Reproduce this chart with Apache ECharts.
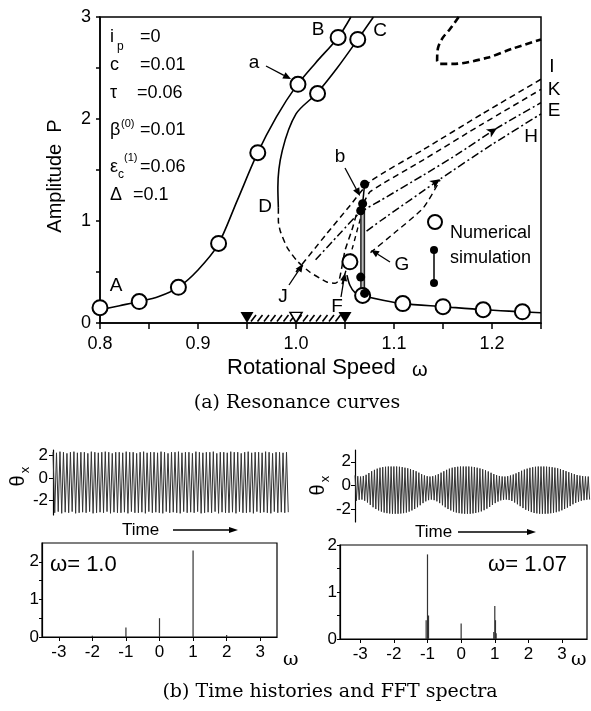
<!DOCTYPE html>
<html><head><meta charset="utf-8">
<script src="https://cdn.jsdelivr.net/npm/echarts@6/dist/echarts.min.js"></script>
<style>html,body{margin:0;padding:0;background:#fff}#c{width:591px;height:711px}</style>
</head><body><div id="c"></div>
<script>
// ---------------- DATA ----------------
// (a) resonance curves : rotational speed w, amplitude P
const abW = [0.8,0.82,0.84,0.86,0.88,0.9,0.92,0.94,0.96,0.98,1.0,1.02,1.043,1.056];
const abP = [0.13,0.17,0.21,0.26,0.35,0.52,0.76,1.2,1.65,2.02,2.32,2.55,2.8,3.0];
const cW  = [1.079,1.063,1.042,1.021,1.0,0.986,0.9815,0.982];
const cP  = [3.0,2.78,2.5,2.25,2.05,1.69,1.33,1.13];
const dkW = [0.982,0.982,0.984,0.991,1.001,1.014,1.032,1.04,1.044,1.05,1.057,1.063,1.07,1.076,1.13,1.19,1.25];
const dkP = [1.13,1.0,0.9,0.74,0.61,0.5,0.40,0.39,0.42,0.71,0.91,1.1,1.2,1.29,1.6,1.95,2.29];
const s2W = [1.047,1.052,1.058,1.063,1.068];
const s2P = [0.38,0.55,0.75,0.93,1.1];
const iW  = [1.0,1.03,1.055,1.076,1.13,1.19,1.25];
const iP  = [0.5,0.86,1.15,1.39,1.7,2.05,2.39];
const eW  = [1.02,1.045,1.065,1.086,1.13,1.164,1.205,1.25];
const eP  = [0.62,0.88,1.08,1.2,1.45,1.65,1.91,2.16];
const hW  = [1.072,1.086,1.147,1.2,1.25];
const hP  = [0.9,1.0,1.41,1.75,2.05];
const gW  = [1.076,1.1,1.13,1.147];
const gP  = [0.69,0.88,1.13,1.40];
const loopW = [1.166,1.157,1.15,1.145,1.144,1.147,1.16,1.195,1.221,1.25];
const loopP = [3.0,2.88,2.8,2.7,2.57,2.54,2.54,2.6,2.69,2.78];
const lowW = [1.052,1.055,1.06,1.068,1.09,1.109,1.15,1.191,1.231,1.25];
const lowP = [0.47,0.37,0.3,0.27,0.22,0.19,0.16,0.13,0.11,0.1];
// numerical simulation (open circles)
const simW = [0.8,0.84,0.88,0.921,0.961,1.002,1.043,1.022,1.063,1.055,1.068,1.109,1.15,1.191,1.231];
const simP = [0.15,0.21,0.35,0.78,1.67,2.34,2.8,2.25,2.78,0.6,0.27,0.19,0.16,0.13,0.11];
// numerical simulation band at w=1.07 (filled dots)
const dotW = [1.07,1.068,1.066,1.066,1.07];
const dotP = [1.36,1.17,1.1,0.45,0.29];
const bandW = 1.068, bandLo = 0.3, bandHi = 1.15;
// unstable speed range on axis
const rangeW = [0.95,1.0,1.05];
// arrow marks on curves
const arrowW = [1.147,1.205], arrowP = [1.41,1.91], arrowDir = [-56,-58];

// (b) time histories : per-cycle peaks / troughs
const leftPeaks = [2.30,2.25,2.35,2.30,2.20,2.30,2.35,2.25,2.30,2.30,
2.20,2.35,2.30,2.25,2.30,2.35,2.30,2.20,2.30,2.30,
2.25,2.35,2.30,2.30,2.20,2.30,2.35,2.25,2.30,2.30,
2.25,2.35,2.30,2.20,2.30,2.30,2.35,2.25,2.30,2.30,
2.20,2.35,2.30,2.25,2.30,2.30,2.35,2.20,2.30,2.30,
2.25,2.35,2.30,2.30,2.20,2.30,2.35,2.25,2.30,2.30,
2.25,2.35,2.30,2.20,2.30,2.30,2.25,2.30];
const leftTroughs = [-3.10,-3.00,-3.15,-3.05,-3.10,-3.00,-3.15,-3.10,-3.05,-3.10,
-3.00,-3.15,-3.10,-3.05,-3.10,-3.00,-3.15,-3.05,-3.10,-3.10,
-3.05,-3.15,-3.00,-3.10,-3.10,-3.05,-3.15,-3.00,-3.10,-3.05,
-3.10,-3.15,-3.00,-3.10,-3.05,-3.10,-3.15,-3.00,-3.10,-3.05,
-3.10,-3.00,-3.15,-3.10,-3.05,-3.10,-3.00,-3.15,-3.05,-3.10,
-3.10,-3.05,-3.15,-3.00,-3.10,-3.10,-3.05,-3.15,-3.00,-3.10,
-3.05,-3.10,-3.15,-3.00,-3.10,-3.05,-3.10,-3.05];
const rightPeaks = [0.85,0.78,0.75,0.8,0.9,1.05,1.2,1.32,1.42,1.5,
1.55,1.58,1.6,1.6,1.6,1.6,1.58,1.55,1.5,1.45,
1.38,1.3,1.2,1.08,0.95,0.85,0.78,0.75,0.78,0.85,
0.95,1.08,1.2,1.32,1.42,1.5,1.55,1.58,1.6,1.6,
1.6,1.6,1.58,1.55,1.5,1.44,1.37,1.28,1.18,1.07,
0.96,0.87,0.8,0.76,0.75,0.78,0.84,0.92,1.02,1.13,
1.24,1.34,1.42,1.49,1.54,1.58,1.6,1.6,1.6,1.59,
1.57,1.54,1.5,1.45,1.38,1.3,1.21,1.12,1.03,0.95,
0.88,0.83,0.79,0.76,0.75];
const rightTroughs = [-1.3,-1.22,-1.2,-1.3,-1.45,-1.65,-1.85,-2.0,-2.12,-2.22,
-2.3,-2.35,-2.38,-2.4,-2.4,-2.4,-2.38,-2.35,-2.3,-2.22,
-2.12,-2.0,-1.85,-1.68,-1.5,-1.35,-1.25,-1.2,-1.25,-1.35,
-1.5,-1.68,-1.85,-2.0,-2.12,-2.22,-2.3,-2.35,-2.38,-2.4,
-2.4,-2.4,-2.37,-2.33,-2.27,-2.2,-2.1,-1.97,-1.82,-1.66,
-1.5,-1.37,-1.27,-1.22,-1.2,-1.24,-1.32,-1.45,-1.6,-1.76,
-1.92,-2.06,-2.17,-2.26,-2.33,-2.37,-2.4,-2.4,-2.4,-2.39,
-2.36,-2.32,-2.27,-2.2,-2.11,-2.0,-1.88,-1.75,-1.6,-1.48,
-1.38,-1.3,-1.25,-1.21,-1.2];
// FFT spectra
const fftLW = [-2,-1,0,1,2];
const fftLH = [0.03,0.25,0.5,2.3,0.05];
const fftRW = [-1.04,-1.0,-0.97,0,0.97,1.0,1.02,1.04];
const fftRH = [0.4,1.8,0.5,0.33,0.15,0.7,0.4,0.12];
// tick labels
const mainXTicks = [0.8,0.85,0.9,0.95,1.0,1.05,1.1,1.15,1.2,1.25];
const mainXLabels = [0.8,0.9,1.0,1.1,1.2];
const mainYTicks = [0,0.5,1,1.5,2,2.5,3];
const mainYLabels = [0,1,2,3];
const timeYLabels = [-2,0,2];
const fftXLabels = [-3,-2,-1,0,1,2,3];
const fftYTicks = [0,0.5,1,1.5,2];
const fftYLabels = [0,1,2];

// ---------------- helpers ----------------
const zip = (a,b) => a.map((v,i)=>[v,b[i]]);
const zig = (p,t) => { const out=[]; p.forEach((v,i)=>{out.push([i,v]); out.push([i+0.5,t[i]]);}); return out; };
const SANS = '"Liberation Sans", Arial, Helvetica, sans-serif';
const SERIF = '"DejaVu Serif", "Liberation Serif", serif';
function T(text,x,y,size,o={}){
  const al=o.align||'left', va=o.va||'middle';
  return {type:'text', x, y, rotation:o.rot||0, z:100,
    style:{text, font:`normal ${size}px ${o.family||SANS}`, fill:'#000',
      align:al, textAlign:al, verticalAlign:va, textVerticalAlign:va}};
}
function A(x1,y1,x2,y2,hl=8,hw=3.5){
  const dx=x2-x1, dy=y2-y1, L=Math.hypot(dx,dy), ux=dx/L, uy=dy/L;
  const bx=x2-ux*hl, by=y2-uy*hl;
  return [{type:'line', z:100, shape:{x1,y1,x2:bx,y2:by}, style:{stroke:'#000', lineWidth:1.3}},
          {type:'polygon', z:100, shape:{points:[[x2,y2],[bx-uy*hw,by+ux*hw],[bx+uy*hw,by-ux*hw]]}, style:{fill:'#000'}}];
}
const axisTxt = {color:'#000', fontFamily:SANS};
const black = {color:'#000', width:1.5};

function lineS(w,p,type,width,smooth){
  return {type:'line', xAxisIndex:0, yAxisIndex:0, data:zip(w,p), showSymbol:false, symbol:'none',
    smooth:smooth===undefined?0.3:smooth, lineStyle:{color:'#000', width:width||1.5, type:type||'solid'}, z:3, silent:true};
}
function spikes(xi, w, h, color){
  return {type:'custom', xAxisIndex:xi, yAxisIndex:xi, data:zip(w,h), silent:true,
    renderItem:(params,api)=>{
      const a=api.coord([api.value(0),0]), b=api.coord([api.value(0),api.value(1)]);
      return {type:'line', shape:{x1:a[0],y1:a[1],x2:b[0],y2:b[1]}, style:{stroke:color, lineWidth:1.2}};
    }};
}

// ---------------- option ----------------
const option = {
  animation:false,
  backgroundColor:'#fff',
  grid:[
    {left:100, top:17, width:441, height:306, show:true, borderColor:'#000', borderWidth:1.5},
    {left:53, top:450, width:237, height:65},
    {left:355, top:450, width:236, height:72},
    {left:42, top:543, width:235, height:94, show:true, borderColor:'#000', borderWidth:1.2},
    {left:340, top:545, width:247, height:94, show:true, borderColor:'#000', borderWidth:1.2}
  ],
  xAxis:[
    {type:'value', gridIndex:0, min:0.8, max:1.25, axisLine:{lineStyle:black},
      axisTick:{customValues:mainXTicks, length:6, lineStyle:black},
      axisLabel:{customValues:mainXLabels, formatter:v=>v.toFixed(1), fontSize:18, margin:12, ...axisTxt},
      splitLine:{show:false}},
    {type:'value', gridIndex:1, min:0, max:leftPeaks.length, show:false},
    {type:'value', gridIndex:2, min:0, max:rightPeaks.length, show:false},
    {type:'value', gridIndex:3, min:-3.5, max:3.5, axisLine:{onZero:false, lineStyle:{color:'#000',width:1.2}},
      axisTick:{customValues:fftXLabels, length:4, lineStyle:{color:'#000'}},
      axisLabel:{customValues:fftXLabels, fontSize:17, margin:7, ...axisTxt}, splitLine:{show:false}},
    {type:'value', gridIndex:4, min:-3.6, max:3.74, axisLine:{onZero:false, lineStyle:{color:'#000',width:1.2}},
      axisTick:{customValues:fftXLabels, length:4, lineStyle:{color:'#000'}},
      axisLabel:{customValues:fftXLabels, fontSize:17, margin:7, ...axisTxt}, splitLine:{show:false}}
  ],
  yAxis:[
    {type:'value', gridIndex:0, min:0, max:3, axisLine:{lineStyle:black},
      axisTick:{customValues:mainYTicks, length:4, lineStyle:black},
      axisLabel:{customValues:mainYLabels, fontSize:18, margin:9, ...axisTxt}, splitLine:{show:false}},
    {type:'value', gridIndex:1, min:-3.3, max:2.5, axisLine:{show:true, lineStyle:{color:'#000',width:1.2}},
      axisTick:{show:true, customValues:timeYLabels, length:4, lineStyle:{color:'#000'}},
      axisLabel:{customValues:timeYLabels, fontSize:17, margin:5, ...axisTxt}, splitLine:{show:false}},
    {type:'value', gridIndex:2, min:-3.1, max:3.0, axisLine:{show:true, lineStyle:{color:'#000',width:1.2}},
      axisTick:{show:true, customValues:timeYLabels, length:4, lineStyle:{color:'#000'}},
      axisLabel:{customValues:timeYLabels, fontSize:17, margin:4, ...axisTxt}, splitLine:{show:false}},
    {type:'value', gridIndex:3, min:0, max:2.5, axisLine:{onZero:false, lineStyle:{color:'#000',width:1.2}},
      axisTick:{customValues:fftYTicks, length:3, lineStyle:{color:'#000'}},
      axisLabel:{customValues:fftYLabels, fontSize:17, margin:3, ...axisTxt}, splitLine:{show:false}},
    {type:'value', gridIndex:4, min:0, max:2, axisLine:{onZero:false, lineStyle:{color:'#000',width:1.2}},
      axisTick:{customValues:fftYTicks, length:3, lineStyle:{color:'#000'}},
      axisLabel:{customValues:fftYLabels, fontSize:17, margin:3, ...axisTxt}, splitLine:{show:false}}
  ],
  series:[
    lineS(abW,abP,'solid',1.6),
    lineS(cW,cP,'solid',1.6),
    lineS(dkW,dkP,[6,4],1.5,0.2),
    lineS(s2W,s2P,[5,4],1.4,0.2),
    lineS(iW,iP,[6,4],1.5,0.2),
    lineS(eW,eP,[8,3,2,3],1.5,0.2),
    lineS(hW,hP,[8,3,2,3],1.5,0.2),
    lineS(gW,gP,[6,4],1.4,0.2),
    lineS(loopW,loopP,[7,4],2.6,0.3),
    lineS(lowW,lowP,'solid',1.6,0.3),
    // simulation band
    {type:'line', xAxisIndex:0, yAxisIndex:0, data:[[bandW,bandLo],[bandW,bandHi]], symbol:'none',
      lineStyle:{color:'#222', width:5}, z:4, silent:true},
    {type:'line', xAxisIndex:0, yAxisIndex:0, data:[[bandW,bandLo],[bandW,bandHi]], symbol:'none',
      lineStyle:{color:'#bbb', width:2}, z:5, silent:true},
    {type:'line', xAxisIndex:0, yAxisIndex:0, data:[[dotW[0],dotP[0]],[dotW[1],dotP[1]]], symbol:'none',
      lineStyle:{color:'#000', width:1.5}, z:5, silent:true},
    {type:'scatter', xAxisIndex:0, yAxisIndex:0, data:zip(simW,simP), symbol:'circle', symbolSize:15,
      itemStyle:{color:'#fff', borderColor:'#000', borderWidth:2, opacity:1}, z:6, silent:true},
    {type:'scatter', xAxisIndex:0, yAxisIndex:0, data:zip(dotW,dotP), symbol:'circle', symbolSize:9,
      itemStyle:{color:'#000', opacity:1}, z:7, silent:true},
    // arrows on curves
    {type:'scatter', xAxisIndex:0, yAxisIndex:0, data:arrowW.map((w,i)=>({value:[w,arrowP[i]], symbolRotate:arrowDir[i]})),
      symbol:'arrow', symbolSize:[7,10], itemStyle:{color:'#000', opacity:1}, z:7, silent:true},
    // hatched unstable range
    {type:'custom', xAxisIndex:0, yAxisIndex:0, data:[[rangeW[0],rangeW[2]]], silent:true, z:4,
      renderItem:(params,api)=>{
        const a=api.coord([api.value(0),0]), b=api.coord([api.value(1),0]);
        const ch=[];
        for(let x=a[0]+4; x<b[0]-4; x+=6.5){
          ch.push({type:'line', shape:{x1:x, y1:a[1]-1.5, x2:x+5, y2:a[1]-8}, style:{stroke:'#000', lineWidth:1.6}});
        }
        return {type:'group', children:ch};
      }},
    {type:'scatter', xAxisIndex:0, yAxisIndex:0, data:[[rangeW[0],0.055],[rangeW[2],0.055]], symbol:'triangle',
      symbolRotate:180, symbolSize:[13,11], itemStyle:{color:'#000', opacity:1}, z:8, silent:true},
    {type:'scatter', xAxisIndex:0, yAxisIndex:0, data:[[rangeW[1],0.055]], symbol:'triangle',
      symbolRotate:180, symbolSize:[12,10], itemStyle:{color:'#fff', borderColor:'#000', borderWidth:1.5, opacity:1}, z:8, silent:true},
    // time histories
    {type:'line', xAxisIndex:1, yAxisIndex:1, data:zig(leftPeaks,leftTroughs), symbol:'none',
      lineStyle:{color:'#333', width:1}, silent:true},
    {type:'line', xAxisIndex:2, yAxisIndex:2, data:zig(rightPeaks,rightTroughs), symbol:'none',
      lineStyle:{color:'#333', width:1}, silent:true},
    // spectra
    spikes(3, fftLW, fftLH, '#333'),
    spikes(4, fftRW, fftRH, '#333')
  ],
  graphic:{elements:[
    // axis titles
    T('Amplitude  P', 55, 176, 20, {rot:Math.PI/2, align:'center'}),
    T('Rotational Speed', 227, 368, 22),
    T('ω', 412, 370, 20),
    // parameters
    T('i', 110, 37, 18), T('p', 117, 47, 12), T('=0', 140, 37, 18),
    T('c', 110, 65, 18), T('=0.01', 140, 65, 18),
    T('τ', 110, 93, 18), T('=0.06', 137, 93, 18),
    T('β', 110, 130, 18), T('(0)', 121, 124, 11), T('=0.01', 140, 130, 18),
    T('ε', 110, 167, 18), T('c', 118, 175, 12), T('(1)', 124, 158, 11), T('=0.06', 140, 167, 18),
    T('Δ', 110, 195, 18), T('=0.1', 133, 195, 18),
    // curve labels
    T('A', 116, 286, 19, {align:'center'}),
    T('a', 254, 63, 19, {align:'center'}),
    T('B', 318, 30, 19, {align:'center'}),
    T('C', 380, 31, 19, {align:'center'}),
    T('D', 265, 207, 19, {align:'center'}),
    T('b', 340, 157, 19, {align:'center'}),
    T('J', 283, 297, 19, {align:'center'}),
    T('F', 337, 307, 19, {align:'center'}),
    T('G', 402, 265, 19, {align:'center'}),
    T('I', 552, 67, 19, {align:'center'}),
    T('K', 554, 90, 19, {align:'center'}),
    T('E', 554, 111, 19, {align:'center'}),
    T('H', 531, 137, 19, {align:'center'}),
    ...A(266,66,291,79),
    ...A(345,168,360,196),
    ...A(289,285,303,264),
    ...A(341,297,345,273),
    ...A(390,262,371,250),
    // legend
    {type:'circle', z:100, shape:{cx:435, cy:222, r:7}, style:{fill:'#fff', stroke:'#000', lineWidth:2}},
    T('Numerical', 450, 233, 18),
    T('simulation', 450, 258, 18),
    {type:'line', z:100, shape:{x1:434, y1:250, x2:434, y2:283}, style:{stroke:'#000', lineWidth:1.5}},
    {type:'circle', z:100, shape:{cx:434, cy:250, r:4}, style:{fill:'#000'}},
    {type:'circle', z:100, shape:{cx:434, cy:283, r:4}, style:{fill:'#000'}},
    // captions
    T('(a) Resonance curves', 297, 403, 19, {align:'center', family:SERIF}),
    T('(b) Time histories and FFT spectra', 330, 692, 19, {align:'center', family:SERIF}),
    // time-history labels
    T('θ', 18, 481, 20, {rot:Math.PI/2, align:'center'}),
    T('x', 25, 470, 13, {rot:Math.PI/2, align:'center'}),
    T('θ', 318, 490, 20, {rot:Math.PI/2, align:'center'}),
    T('x', 325, 479, 13, {rot:Math.PI/2, align:'center'}),
    T('Time', 122, 530, 17),
    ...A(173,530,238,530,9,3),
    T('Time', 415, 532, 17),
    ...A(458,532,536,532,9,3),
    // spectra labels
    T('ω= 1.0', 50, 565, 22),
    T('ω= 1.07', 567, 565, 22, {align:'right'}),
    T('ω', 283, 660, 19, {family:SERIF}),
    T('ω', 571, 660, 19, {family:SERIF})
  ]}
};
const chart = echarts.init(document.getElementById('c'), null, {width:591, height:711});
chart.setOption(option);
</script></body></html>
